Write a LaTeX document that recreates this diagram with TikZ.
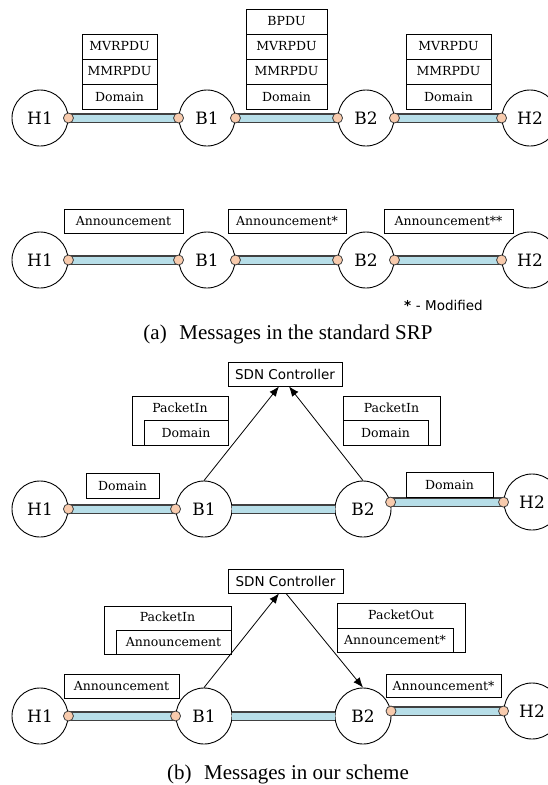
\documentclass[tikz,border=0pt]{standalone}
\usepackage{fontspec}
\setmainfont{Liberation Serif}
\newfontfamily\boxserif{DejaVu Serif}
\newfontfamily\uisans{DejaVu Sans}
\usetikzlibrary{arrows.meta}
\definecolor{barblue}{HTML}{B7DEE8}
\definecolor{portorange}{HTML}{F8CBAD}
\definecolor{edgegray}{HTML}{404040}
\newcommand\msgfont{\boxserif\fontsize{12.5pt}{14pt}\selectfont}
\newcommand\hostfont{\boxserif\fontsize{17pt}{19pt}\selectfont}
\newcommand\ctrlfont{\uisans\fontsize{13.5pt}{16pt}\selectfont}
\newcommand\capfont{\fontsize{21pt}{24pt}\selectfont}
\tikzset{
  host/.style={circle, draw, line width=0.9pt, minimum size=56pt, inner sep=0pt, font=\hostfont},
  port/.style={circle, draw=edgegray, fill=portorange, line width=0.8pt, minimum size=10pt, inner sep=0pt},
  link/.style={draw=edgegray, double=barblue, double distance=7pt, line width=1.2pt},
  msg/.style={rectangle, draw, fill=white, line width=0.8pt, inner sep=0pt, minimum height=25pt, font=\msgfont},
  wrapbox/.style={rectangle, draw, line width=0.8pt, inner sep=0pt},
  wraplabel/.style={inner sep=0pt, font=\msgfont},
  ctrl/.style={rectangle, draw, line width=0.8pt, inner sep=0pt, minimum height=24pt, font=\ctrlfont},
  ctrlarrow/.style={line width=0.8pt, -{Latex[length=10pt,width=8pt]}},
  caption/.style={anchor=base, inner sep=0pt, font=\capfont}
}
\begin{document}
\begin{tikzpicture}[x=1pt,y=-1pt]
\useasboundingbox (0,0) rectangle (548,785);
\clip (0,0) rectangle (548,785);

% ---------- (a) standard SRP: PDU stacks ----------
\node[host] (h1a) at (40,118) {H1};
\node[host] (b1a) at (207,118) {B1};
\node[host] (b2a) at (366,118) {B2};
\node[host] (h2a) at (530,118) {H2};
\draw[link] (h1a.east) -- (b1a.west);
\draw[link] (b1a.east) -- (b2a.west);
\draw[link] (b2a.east) -- (h2a.west);
\foreach \n/\a in {h1a/east, b1a/west, b1a/east, b2a/west, b2a/east, h2a/west}
  \node[port] at (\n.\a) {};

\node[msg, minimum width=75pt] (s1r1) at (119.5,46.5) {MVRPDU};
\node[msg, minimum width=75pt] (s1r2) at (119.5,71.5) {MMRPDU};
\node[msg, minimum width=75pt] (s1r3) at (119.5,96.5) {Domain};

\node[msg, minimum width=81pt] (s2r0) at (286.5,21.5) {BPDU};
\node[msg, minimum width=81pt] (s2r1) at (286.5,46.5) {MVRPDU};
\node[msg, minimum width=81pt] (s2r2) at (286.5,71.5) {MMRPDU};
\node[msg, minimum width=81pt] (s2r3) at (286.5,96.5) {Domain};

\node[msg, minimum width=85pt] (s3r1) at (448.5,46.5) {MVRPDU};
\node[msg, minimum width=85pt] (s3r2) at (448.5,71.5) {MMRPDU};
\node[msg, minimum width=85pt] (s3r3) at (448.5,96.5) {Domain};

% ---------- (a) standard SRP: announcements ----------
\node[host] (h1b) at (40,260) {H1};
\node[host] (b1b) at (207,260) {B1};
\node[host] (b2b) at (366,260) {B2};
\node[host] (h2b) at (530,260) {H2};
\draw[link] (h1b.east) -- (b1b.west);
\draw[link] (b1b.east) -- (b2b.west);
\draw[link] (b2b.east) -- (h2b.west);
\foreach \n/\a in {h1b/east, b1b/west, b1b/east, b2b/west, b2b/east, h2b/west}
  \node[port] at (\n.\a) {};

\node[msg, minimum width=119pt, minimum height=24pt] (ann1) at (123.5,221) {Announcement};
\node[msg, minimum width=118pt, minimum height=24pt] (ann2) at (287,221) {Announcement*};
\node[msg, minimum width=129pt, minimum height=24pt] (ann3) at (448.5,221) {Announcement**};

\node[anchor=west, inner sep=0pt, font=\ctrlfont] (note) at (404,305) {{\bfseries *}\,\,-\,\,Modified};

\node[caption] (capa) at (288,339) {(a)\hspace{0.35em} Messages in the standard SRP};

% ---------- (b) our scheme: domain via controller ----------
\node[ctrl, minimum width=114pt] (ctlc) at (285,374) {SDN Controller};

\node[host] (h1c) at (40,509) {H1};
\node[host] (b1c) at (204,509) {B1};
\node[host] (b2c) at (363,509) {B2};
\node[host] (h2c) at (532,502) {H2};
\draw[link] (h1c.east) -- (b1c.west);
\draw[link] (b1c.east) -- (b2c.west);
\coordinate (b2cport) at (b2c.14.5);
\draw[link] (b2cport) -- (b2cport -| h2c.west);
\foreach \p in {h1c.east, b1c.west, b2cport, b2cport -| h2c.west}
  \node[port] at (\p) {};

\node[msg, minimum width=73pt] (domc1) at (122.5,485.5) {Domain};
\node[msg, minimum width=87pt] (domc2) at (449.5,484.5) {Domain};

\node[wrapbox, minimum width=96pt, minimum height=49pt] (pinc1) at (180,420.5) {};
\node[wraplabel] (pinc1t) at (180,408) {PacketIn};
\node[msg, minimum width=84pt] (pinc1d) at (186,432.5) {Domain};

\node[wrapbox, minimum width=97pt, minimum height=49pt] (pinc2) at (391.5,420.5) {};
\node[wraplabel] (pinc2t) at (391.5,408) {PacketIn};
\node[msg, minimum width=85pt] (pinc2d) at (385.5,432.5) {Domain};

\draw[ctrlarrow] (b1c.north) -- (ctlc.south -| 279,0);
\draw[ctrlarrow] (b2c.north) -- (ctlc.south -| 289,0);

% ---------- (b) our scheme: announcement via controller ----------
\node[ctrl, minimum width=115pt] (ctld) at (285.5,581) {SDN Controller};

\node[host] (h1d) at (40,716) {H1};
\node[host] (b1d) at (204,716) {B1};
\node[host] (b2d) at (363,716) {B2};
\node[host] (h2d) at (532,711) {H2};
\draw[link] (h1d.east) -- (b1d.west);
\draw[link] (b1d.east) -- (b2d.west);
\coordinate (b2dport) at (b2d.10.3);
\draw[link] (b2dport) -- (b2dport -| h2d.west);
\foreach \p in {h1d.east, b1d.west, b2dport, b2dport -| h2d.west}
  \node[port] at (\p) {};

\node[msg, minimum width=115pt, minimum height=24pt] (annd1) at (121.5,686) {Announcement};
\node[msg, minimum width=115pt, minimum height=23pt] (annd2) at (443.5,685.5) {Announcement*};

\node[wrapbox, minimum width=127pt, minimum height=48pt] (pind) at (167.5,630) {};
\node[wraplabel] (pindt) at (167.5,617) {PacketIn};
\node[msg, minimum width=115pt, minimum height=24pt] (pindd) at (173.5,642) {Announcement};

\node[wrapbox, minimum width=128pt, minimum height=49pt] (poutd) at (401,627.5) {};
\node[wraplabel] (poutdt) at (401,615) {PacketOut};
\node[msg, minimum width=116pt, minimum height=24pt] (poutdd) at (395,640) {Announcement*};

\draw[ctrlarrow] (b1d.north) -- (ctld.south -| 279,0);
\draw[ctrlarrow] (ctld.south -| 286,0) -- (b2d.north);

\node[caption] (capb) at (288,779) {(b)\hspace{0.35em} Messages in our scheme};
\end{tikzpicture}
\end{document}
